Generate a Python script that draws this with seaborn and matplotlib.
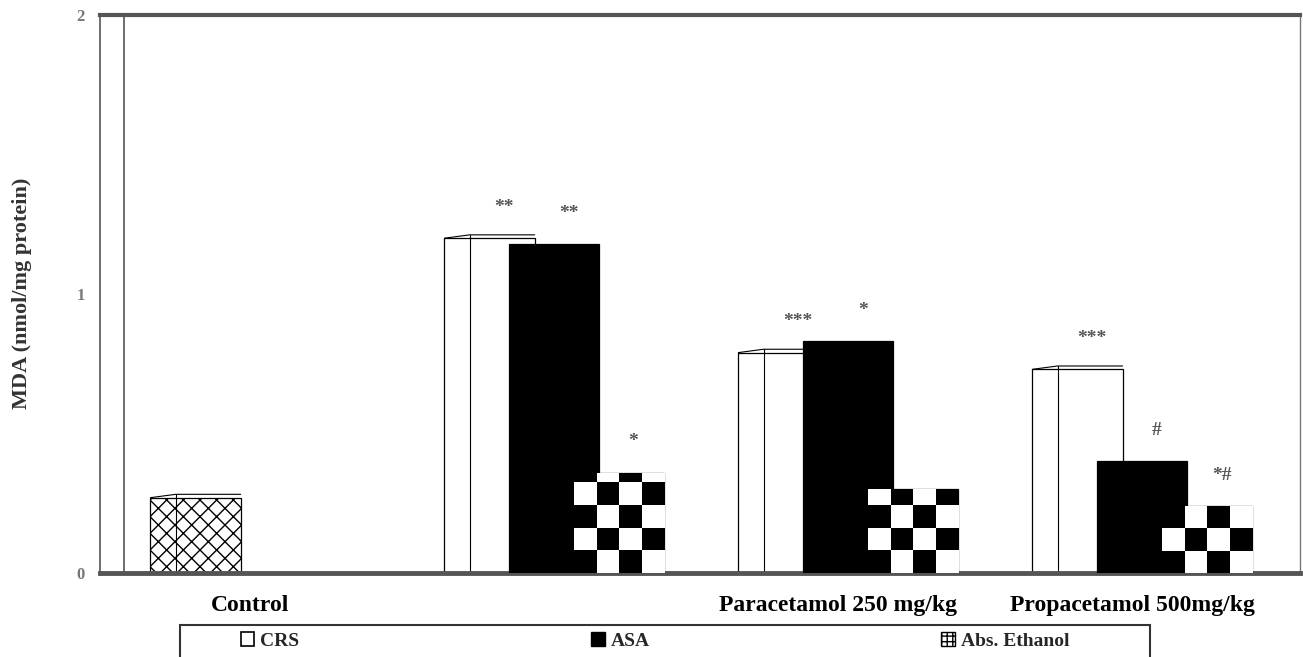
import numpy as np
import pandas as pd
import matplotlib
matplotlib.use("Agg")
import matplotlib.pyplot as plt
import matplotlib.transforms as mtransforms
from matplotlib.patches import Patch, Rectangle
import seaborn as sns

sns.set_style("white")
plt.rcParams['font.family'] = ['Liberation Serif', 'DejaVu Serif']

# ---------------- data ----------------
groups = ["Control", "Stress", "Paracetamol 250 mg/kg", "Propacetamol 500mg/kg"]
tick_labels = ["Control", "", "Paracetamol 250 mg/kg", "Propacetamol 500mg/kg"]
series = ["CRS", "ASA", "Abs. Ethanol"]
crs = [0.27, 1.20, 0.79, 0.73]
asa = [np.nan, 1.18, 0.83, 0.40]
ethanol = [np.nan, 0.36, 0.30, 0.24]
marks_crs = ["", "**", "***", "***"]
marks_asa = ["", "**", "*", "#"]
marks_eth = ["", "*", "", "*#"]

df = pd.DataFrame({
    "group": groups * 3,
    "series": np.repeat(series, len(groups)),
    "value": crs + asa + ethanol,
}).dropna()
marks = [marks_crs, marks_asa, marks_eth]

fig, ax = plt.subplots(figsize=(13.03, 6.57), dpi=100)
fig.subplots_adjust(left=100 / 1303, right=1300 / 1303, top=1 - 15 / 657, bottom=1 - 573 / 657)

sns.barplot(data=df, x="group", y="value", hue="series", order=groups, hue_order=series,
            palette=["white", "black", "white"], edgecolor="black", linewidth=0.9,
            width=0.66, legend=False, ax=ax)

bw = 0.307
for i, cont in enumerate(ax.containers):
    for p in cont.patches:
        cx = p.get_x() + p.get_width() / 2
        h = p.get_height()
        p.set_width(bw)
        p.set_x(cx - bw / 2)
        p.set_zorder(2 + i)
        g = int(round(cx))
        x0, x1 = cx - bw / 2, cx + bw / 2
        if i == 0:
            if g == 0:
                p.set_hatch("xx")
            # fake 3D edges
            ax.plot([x0 + 0.28 * bw, x0 + 0.28 * bw], [0, h + 0.012], color="black", lw=0.8, zorder=2.1)
            ax.plot([x0, x0 + 0.28 * bw, x1], [h, h + 0.012, h + 0.012], color="black", lw=0.8, zorder=2.1)
        if i == 2:
            sq_x = bw / 4
            sq_y = sq_x * 293.5 / 279
            nrows = int(np.ceil(h / sq_y))
            board = np.indices((nrows, 4)).sum(axis=0) % 2
            im = ax.imshow(board, cmap="gray", extent=(x0, x1, 0, nrows * sq_y), origin="lower",
                           aspect="auto", interpolation="nearest", zorder=p.get_zorder() + 0.1)
            im.set_clip_path(p)
        txt = marks[i][g]
        if txt:
            ax.text(cx + 0.05, h + 0.11, txt, ha="center", va="center", fontsize=14,
                    color="#555555", fontweight="bold", zorder=10)

ax.set_xlim(-0.545, 3.537)
ax.set_ylim(0, 2)
ax.set_yticks([0, 1, 2])
ax.set_yticklabels(["0", "1", "2"], fontsize=12, fontweight="bold", color="#777777")
ax.set_xticks(range(len(groups)))
ax.set_xticklabels(tick_labels, fontsize=17, fontweight="bold", color="black")
ax.tick_params(axis="x", length=0, pad=16)
ax.tick_params(axis="y", length=4, color="#555555", pad=7)
shift = mtransforms.ScaledTranslation(-10 / 100, 0, fig.dpi_scale_trans)
for lab in ax.get_xticklabels():
    lab.set_transform(lab.get_transform() + shift)
ax.set_xlabel("")
ax.set_ylabel("MDA (nmol/mg protein)", fontsize=16, fontweight="bold", color="#333333")
ax.yaxis.set_label_coords(-68 / 1200, (573 - 293) / 558)

ax.axvline(-0.463, color="#555555", lw=1.2, zorder=1)
for side, lw, col in [("top", 3, "#555555"), ("bottom", 3.5, "#555555"),
                      ("left", 1.2, "#555555"), ("right", 1.0, "#777777")]:
    ax.spines[side].set_visible(True)
    ax.spines[side].set_linewidth(lw)
    ax.spines[side].set_color(col)

# legend
handles = [Patch(facecolor="white", edgecolor="black", lw=1.2, label="CRS"),
           Patch(facecolor="black", edgecolor="black", label="ASA"),
           Patch(facecolor="white", edgecolor="black", hatch="+++", label="Abs. Ethanol")]
fig.legend(handles=handles, loc="center", bbox_to_anchor=(655 / 1303, 1 - 641 / 657), ncol=3,
           frameon=False, prop={"family": "Liberation Serif", "weight": "bold", "size": 14},
           handlelength=0.7, handleheight=0.7, handletextpad=0.3, columnspacing=15.0)
fig.patches.append(Rectangle((180 / 1303, -0.05), 970 / 1303, 0.05 + (657 - 625) / 657,
                             transform=fig.transFigure, fill=False, edgecolor="#333333", lw=1.5))

fig.savefig("out.png", dpi=100)
